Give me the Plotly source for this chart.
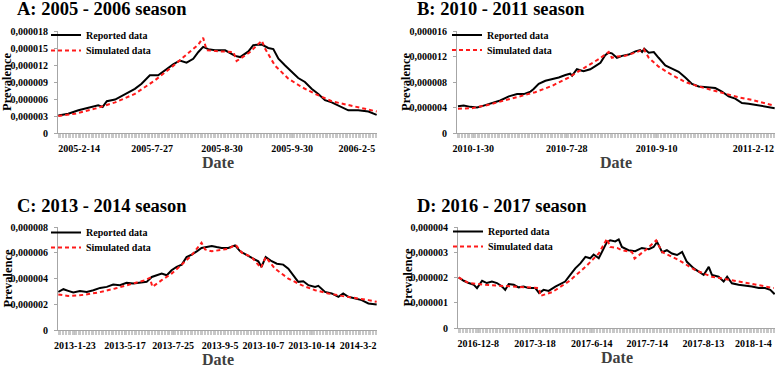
import plotly.graph_objects as go

# ---------------- DATA (prevalence in units of 1e-6; x = position in season, 0-100) ----------------
# Panel A: 2005 - 2006 season
A_rep_step = [0.1, 3.2, 6.4, 9.5, 12.6, 14.0, 15.3, 17.9, 21.0, 24.1, 26.2, 28.8, 31.4, 33.5, 36.1, 38.2,
              40.3, 42.4, 44.0, 45.5, 47.1, 49.2, 52.4, 55.5, 57.1, 59.7, 61.2, 63.9, 65.9, 67.5, 69.1,
              71.2, 73.3, 75.3, 77.4, 79.5, 81.6, 83.7, 85.8, 88.9, 91.0, 94.1, 97.3, 99.9]
A_rep_val = [3.1, 3.4, 4.0, 4.5, 4.9, 4.6, 5.6, 5.9, 6.8, 7.8, 8.7, 10.2, 10.2, 11.1, 12.1, 12.8,
             12.4, 13.1, 14.3, 15.2, 14.8, 14.6, 14.6, 13.6, 13.4, 14.4, 15.5, 15.6, 15.0, 14.8, 13.1,
             11.9, 10.8, 9.7, 9.0, 7.8, 6.9, 5.8, 5.4, 4.6, 4.0, 4.0, 3.8, 3.2]
A_sim_step = [0.1, 5.3, 11.6, 17.9, 24.1, 30.4, 35.6, 40.8, 44.0, 45.5, 46.6, 50.8, 55.0, 56.0, 60.0,
              63.9, 64.9, 68.0, 72.2, 76.4, 80.6, 85.8, 91.0, 96.2, 99.9]
A_sim_val = [3.0, 3.4, 4.3, 5.4, 6.9, 9.3, 11.6, 14.0, 15.6, 16.8, 14.6, 14.4, 14.3, 12.7, 14.2,
             16.3, 14.9, 11.9, 9.6, 8.1, 6.9, 5.6, 4.9, 4.3, 3.8]
A_tick_steps = [6.6, 29.5, 51.4, 73.4, 93.7]
A_tick_labels = ["2005-2-14", "2005-7-27", "2005-8-30", "2005-9-30", "2006-2-5"]
A_y_ticks = [0, 3, 6, 9, 12, 15, 18]
A_y_labels = ["0", "0,000003", "0,000006", "0,000009", "0,000012", "0,000015", "0,000018"]

# Panel B: 2010 - 2011 season
B_rep_step = [0.3, 2.1, 4.2, 6.3, 8.4, 11.0, 13.6, 16.3, 18.9, 21.0, 23.1, 24.1, 25.7, 27.8, 29.9, 32.0,
              34.1, 35.6, 36.2, 37.7, 39.8, 41.9, 43.5, 45.1, 46.6, 47.7, 48.7, 49.8, 50.3, 51.9, 54.0,
              56.1, 57.6, 58.2, 58.9, 60.3, 61.9, 63.4, 65.5, 67.6, 69.7, 71.8, 73.9, 76.0, 78.6, 81.2,
              83.3, 85.4, 87.5, 89.6, 91.7, 93.8, 95.9, 98.0, 99.9]
B_rep_val = [4.2, 4.3, 4.1, 4.0, 4.3, 4.7, 5.1, 5.75, 6.1, 6.1, 6.5, 6.9, 7.7, 8.2, 8.4, 8.7,
             9.1, 9.3, 9.0, 10.0, 9.7, 10.0, 10.5, 11.0, 12.2, 12.6, 12.5, 12.0, 11.8, 12.1, 12.3,
             12.8, 13.0, 12.7, 13.2, 12.6, 12.7, 11.8, 10.6, 10.1, 9.6, 8.7, 7.7, 7.3, 7.2, 7.05,
             6.5, 5.75, 5.4, 4.7, 4.6, 4.4, 4.2, 4.0, 3.9]
B_sim_step = [0.3, 4.7, 8.9, 14.2, 19.4, 24.6, 29.9, 35.1, 40.3, 44.6, 47.7, 48.7, 50.3, 52.9, 57.1,
              58.7, 60.3, 63.4, 67.6, 71.8, 76.0, 80.2, 84.4, 88.6, 92.8, 96.9, 99.6]
B_sim_val = [3.8, 3.9, 4.3, 5.0, 5.6, 6.4, 7.4, 8.7, 10.3, 11.6, 12.7, 11.8, 12.0, 12.1, 12.8,
             13.2, 11.8, 10.4, 9.1, 8.0, 7.3, 6.7, 6.1, 5.6, 5.2, 4.7, 4.3]
B_tick_steps = [5.1, 34.5, 62.8, 93.2]
B_tick_labels = ["2010-1-30", "2010-7-28", "2010-9-10", "2011-2-12"]
B_y_ticks = [0, 4, 8, 12, 16]
B_y_labels = ["0", "0,000004", "0,000008", "0,000012", "0,000016"]

# Panel C: 2013 - 2014 season
C_rep_step = [0.1, 1.7, 3.2, 4.8, 6.9, 9.0, 11.1, 13.2, 15.3, 17.3, 19.4, 21.5, 23.6, 25.7, 27.8, 29.4,
              30.9, 32.5, 34.1, 35.6, 37.2, 38.8, 40.3, 41.9, 43.5, 45.0, 46.6, 48.2, 49.7, 51.3, 53.4,
              55.5, 57.1, 59.2, 61.2, 62.8, 63.8, 65.1, 67.0, 68.6, 70.6, 72.2, 73.8, 75.3, 76.9, 78.5,
              80.6, 81.6, 83.7, 85.8, 87.9, 89.4, 91.0, 93.1, 95.2, 97.3, 99.9]
C_rep_val = [2.96, 3.17, 3.04, 2.91, 3.02, 2.96, 3.09, 3.27, 3.35, 3.53, 3.48, 3.66, 3.61, 3.66, 3.74, 4.12,
             4.25, 4.38, 4.25, 4.64, 4.90, 5.08, 5.67, 5.85, 6.11, 6.37, 6.44, 6.52, 6.44, 6.37, 6.37,
             6.57, 6.11, 5.80, 5.54, 5.34, 4.90, 5.67, 5.34, 5.15, 5.08, 4.77, 4.25, 3.74, 3.79, 3.48,
             3.35, 3.43, 2.96, 2.84, 2.58, 2.84, 2.58, 2.45, 2.32, 2.06, 1.98]
C_sim_step = [0.1, 3.2, 7.4, 12.6, 17.9, 23.1, 27.3, 28.8, 29.6, 32.5, 35.6, 38.8, 41.9, 45.0, 46.1,
              48.2, 50.8, 53.4, 55.7, 57.6, 60.7, 63.6, 65.1, 68.0, 72.2, 76.4, 80.6, 84.7, 88.9, 93.1,
              97.3, 99.9]
C_sim_val = [2.76, 2.65, 2.71, 2.91, 3.22, 3.61, 3.87, 4.05, 3.35, 3.87, 4.38, 5.08, 5.80, 6.78, 6.26,
             6.11, 6.19, 6.31, 6.62, 6.01, 5.67, 4.82, 5.67, 4.77, 3.99, 3.48, 3.09, 2.84, 2.65, 2.50,
             2.32, 2.19]
C_tick_steps = [5.3, 21.0, 36.1, 50.8, 64.4, 79.5, 94.1]
C_tick_labels = ["2013-1-23", "2013-5-17", "2013-7-25", "2013-9-5", "2013-10-7", "2013-10-14", "2014-3-2"]
C_y_ticks = [0, 2, 4, 6, 8]
C_y_labels = ["0", "0,000002", "0,000004", "0,000006", "0,000008"]

# Panel D: 2016 - 2017 season
D_rep_step = [0.2, 1.8, 3.4, 5.0, 6.0, 7.6, 9.1, 10.7, 12.3, 13.9, 14.9, 16.0, 17.6, 19.1, 20.7, 22.3,
              24.4, 25.6, 27.0, 28.6, 30.7, 32.3, 33.8, 35.4, 37.0, 38.6, 40.2, 41.7, 42.8, 44.4, 46.0,
              47.0, 48.0, 49.6, 50.7, 51.7, 53.8, 55.9, 58.0, 60.2, 61.7, 62.8, 64.4, 65.9, 67.5, 69.1,
              70.7, 72.2, 74.4, 75.9, 77.5, 79.1, 80.1, 82.2, 83.8, 84.9, 86.4, 88.5, 90.6, 92.7, 94.9,
              96.9, 98.5, 99.9]
D_rep_val = [2.0, 1.87, 1.78, 1.71, 1.58, 1.87, 1.78, 1.84, 1.78, 1.64, 1.51, 1.74, 1.71, 1.61, 1.64, 1.58,
             1.58, 1.38, 1.51, 1.47, 1.64, 1.74, 1.84, 2.10, 2.36, 2.56, 2.82, 2.76, 2.91, 2.76, 3.18,
             3.41, 3.47, 3.43, 3.51, 3.21, 3.08, 3.04, 3.17, 3.12, 3.21, 3.41, 3.00, 3.08, 2.95, 2.89,
             3.01, 2.62, 2.36, 2.25, 2.10, 2.42, 2.10, 2.03, 1.84, 2.03, 1.77, 1.71, 1.68, 1.64, 1.58,
             1.58, 1.51, 1.34]
D_sim_step = [0.2, 3.4, 8.6, 13.9, 19.1, 25.6, 26.0, 29.7, 34.9, 40.2, 44.4, 47.0, 48.0, 50.2, 51.7,
              54.9, 55.7, 59.1, 62.5, 64.4, 69.6, 74.9, 80.1, 85.4, 90.6, 95.9, 99.6]
D_sim_val = [2.0, 1.78, 1.71, 1.67, 1.62, 1.58, 1.27, 1.42, 1.84, 2.42, 2.95, 3.54, 3.21, 3.17, 3.08,
             3.01, 2.75, 3.08, 3.47, 3.01, 2.69, 2.29, 2.03, 1.90, 1.77, 1.67, 1.58]
D_tick_steps = [6.4, 24.3, 42.2, 59.7, 77.4, 93.2]
D_tick_labels = ["2016-12-8", "2017-3-18", "2017-6-14", "2017-7-14", "2017-8-13", "2018-1-4"]
D_y_ticks = [0, 1, 2, 3, 4]
D_y_labels = ["0", "0,000001", "0,000002", "0,000003", "0,000004"]

TITLES = ["A: 2005 - 2006 season", "B: 2010 - 2011 season", "C: 2013 - 2014 season", "D: 2016 - 2017 season"]
SERIES_NAMES = ["Reported data", "Simulated data"]

# ---------------- FIGURE ----------------
W, H = 778, 367
FONT = "Liberation Serif"

panels = [
    dict(rep=(A_rep_step, A_rep_val), sim=(A_sim_step, A_sim_val), xt=(A_tick_steps, A_tick_labels),
         yt=(A_y_ticks, A_y_labels), px=(58, 377), py=(31, 133), legx=46, legy=(35, 50.5), title=(15, 9)),
    dict(rep=(B_rep_step, B_rep_val), sim=(B_sim_step, B_sim_val), xt=(B_tick_steps, B_tick_labels),
         yt=(B_y_ticks, B_y_labels), px=(457, 775), py=(31, 133), legx=447, legy=(35, 50), title=(415, 9)),
    dict(rep=(C_rep_step, C_rep_val), sim=(C_sim_step, C_sim_val), xt=(C_tick_steps, C_tick_labels),
         yt=(C_y_ticks, C_y_labels), px=(58, 377), py=(227, 330), legx=46, legy=(232.5, 247.5), title=(15, 206)),
    dict(rep=(D_rep_step, D_rep_val), sim=(D_sim_step, D_sim_val), xt=(D_tick_steps, D_tick_labels),
         yt=(D_y_ticks, D_y_labels), px=(458, 775), py=(227, 328), legx=448, legy=(231.5, 246.5), title=(415, 206)),
]

fig = go.Figure()
annotations = []
layout_upd = {}
for i, p in enumerate(panels):
    n = "" if i == 0 else str(i + 1)
    legs = ["legend" if i == 0 else "legend" + str(2 * i + 1), "legend" + str(2 * i + 2)]
    fig.add_trace(go.Scatter(x=p["rep"][0], y=p["rep"][1], mode="lines", name=SERIES_NAMES[0],
                             line=dict(color="black", width=2), xaxis="x" + n, yaxis="y" + n, legend=legs[0]))
    fig.add_trace(go.Scatter(x=p["sim"][0], y=p["sim"][1], mode="lines", name=SERIES_NAMES[1],
                             line=dict(color="#ff1a1a", width=2, dash="4px,3px"), xaxis="x" + n, yaxis="y" + n,
                             legend=legs[1]))
    x0, x1 = p["px"]
    y0, y1 = p["py"]
    xdom = [x0 / W, x1 / W]
    ydom = [1 - y1 / H, 1 - y0 / H]
    yt = p["yt"]
    layout_upd["xaxis" + n] = dict(
        domain=xdom, range=[0, 100], anchor="y" + n, tickmode="array",
        tickvals=p["xt"][0], ticktext=p["xt"][1], showgrid=False, zeroline=False,
        showline=True, linecolor="#a6a6a6", linewidth=1, ticks="outside", ticklen=4,
        tickcolor="#bfbfbf", ticklabelstandoff=2, automargin=False, tickangle=0,
        tickfont=dict(family=FONT, size=10, color="black", weight="bold"),
        minor=dict(tickmode="linear", tick0=0, dtick=0.45, ticks="outside", ticklen=4,
                   tickcolor="#c8c8c8", tickwidth=1, showgrid=False))
    layout_upd["yaxis" + n] = dict(
        domain=ydom, range=[0, yt[0][-1]], anchor="x" + n, tickmode="array",
        tickvals=yt[0], ticktext=yt[1], showgrid=False, zeroline=False,
        showline=True, linecolor="#a6a6a6", linewidth=1, ticks="outside", ticklen=3,
        tickcolor="#a6a6a6", ticklabelstandoff=4, automargin=False,
        tickfont=dict(family=FONT, size=10, color="black", weight="bold"))
    for k in range(2):
        layout_upd[legs[k]] = dict(x=p["legx"] / W, y=1 - p["legy"][k] / H, xanchor="left", yanchor="middle",
                                   bgcolor="rgba(0,0,0,0)",
                                   font=dict(family=FONT, size=10, color="black", weight="bold"),
                                   tracegroupgap=0, itemwidth=30)
    # panel title
    annotations.append(dict(text=TITLES[i], x=p["title"][0] / W, y=1 - p["title"][1] / H, xref="paper",
                            yref="paper", xanchor="left", yanchor="middle", showarrow=False,
                            font=dict(family=FONT, size=18.5, color="black", weight="bold")))
    # axis titles
    annotations.append(dict(text="Date", x=((x0 + x1) / 2) / W, y=1 - (y1 + 29) / H, xref="paper",
                            yref="paper", xanchor="center", yanchor="middle", showarrow=False,
                            font=dict(family=FONT, size=16, color="#404040", weight="bold")))
    annotations.append(dict(text="Prevalence", x=(x0 - 51) / W, y=1 - ((y0 + y1) / 2) / H, xref="paper",
                            yref="paper", xanchor="center", yanchor="middle", showarrow=False, textangle=-90,
                            font=dict(family=FONT, size=12.5, color="black", weight="bold")))

fig.update_layout(width=W, height=H, margin=dict(l=0, r=0, t=0, b=0), paper_bgcolor="white",
                  plot_bgcolor="white", showlegend=True, annotations=annotations, **layout_upd)

fig.write_html("out.html", config={"displayModeBar": False},
               post_script="document.body.style.margin='0';document.body.style.padding='0';")
